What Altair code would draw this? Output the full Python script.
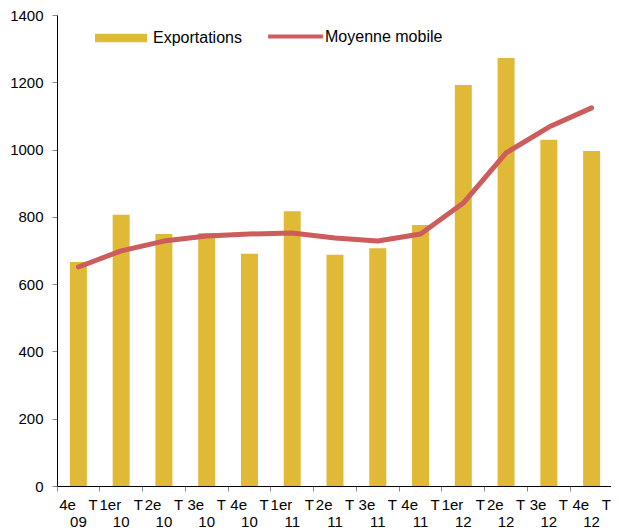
import altair as alt
import pandas as pd

labels = ["4e T 09", "1er T 10", "2e T 10", "3e T 10", "4e T 10", "1er T 11", "2e T 11",
          "3e T 11", "4e T 11", "1er T 12", "2e T 12", "3e T 12", "4e T 12"]
exportations = [666, 806, 749, 752, 690, 817, 687, 707, 776, 1192, 1272, 1029, 996]
moyenne = [651, 699, 728, 743, 749, 752, 737, 728, 749, 841, 990, 1067, 1124]

df = pd.DataFrame({"q": labels, "exp": exportations, "moy": moyenne})
df["s_exp"] = "Exportations"
df["s_moy"] = "Moyenne mobile"

gold = "#E0BA37"
red = "#CD5C5C"
font = "Liberation Sans"

x = alt.X("q:N", sort=labels, title=None,
          scale=alt.Scale(paddingInner=0, paddingOuter=0, range=[0, 556]),
          axis=alt.Axis(labelAngle=0, bandPosition=0,
                        labelExpr="[split(datum.label, ' ')[0] + '\u00a0\u00a0\u00a0' + split(datum.label, ' ')[1], split(datum.label, ' ')[2]]",
                        labelFontSize=15, labelColor="#000", labelFont=font, labelPadding=6,
                        labelLineHeight=17, domainColor="#000", tickColor="#888", tickSize=5,
                        labelBaseline="top"))

y = alt.Y("exp:Q", title=None,
          scale=alt.Scale(domain=[0, 1400], nice=False),
          axis=alt.Axis(values=[0, 200, 400, 600, 800, 1000, 1200, 1400], grid=False, format="d",
                        labelFontSize=15, labelColor="#000", labelFont=font,
                        domainColor="#000", tickColor="#888", tickSize=5, labelPadding=9))

bars = alt.Chart(df).mark_bar(size=17).encode(
    x=x, y=y,
    fill=alt.Fill("s_exp:N", scale=alt.Scale(domain=["Exportations"], range=[gold]),
                  legend=alt.Legend(title=None, orient="none", legendX=38, legendY=-3,
                                    symbolType="M-1,-0.16H1V0.16H-1Z", symbolSize=2700,
                                    symbolStrokeWidth=0, labelFontSize=16, labelFont=font,
                                    labelColor="#000", padding=0, labelOffset=6)),
)

line = alt.Chart(df).mark_line(strokeWidth=5, strokeCap="round", strokeJoin="round").encode(
    x=alt.X("q:N", sort=labels),
    y=alt.Y("moy:Q"),
    stroke=alt.Stroke("s_moy:N", scale=alt.Scale(domain=["Moyenne mobile"], range=[red]),
                      legend=alt.Legend(title=None, orient="none", legendX=209, legendY=-8,
                                        symbolType="stroke", symbolSize=3000,
                                        symbolStrokeWidth=4, labelFontSize=16, labelFont=font,
                                        labelColor="#000", padding=0, labelOffset=0)),
)

chart = alt.layer(bars, line).resolve_scale(fill="independent", stroke="independent").properties(
    width=554, height=471,
    autosize=alt.AutoSizeParams(type="none"),
    padding={"left": 49, "top": 7, "right": 0, "bottom": 44},
).configure_view(stroke=None).configure_legend(symbolStrokeColor=red)

chart.save("out.html", embed_options={"renderer": "svg", "actions": False})
